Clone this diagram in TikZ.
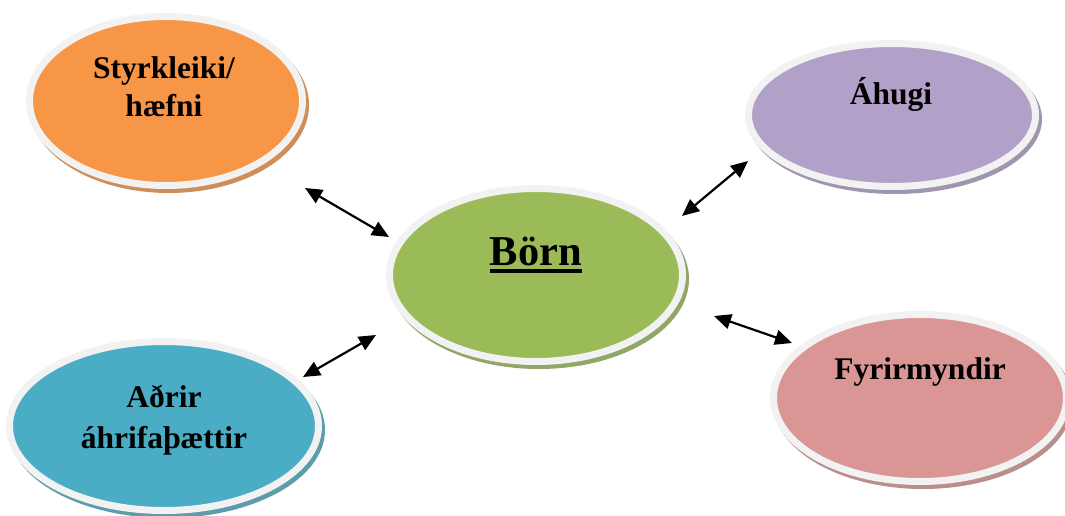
\documentclass[tikz,border=0pt]{standalone}
\usepackage{fontspec}
\setmainfont{Liberation Serif}
\usetikzlibrary{arrows.meta,shapes.geometric}
\definecolor{rim}{RGB}{242,242,242}
\definecolor{corange}{RGB}{247,150,70}
\definecolor{cgreen}{RGB}{155,187,89}
\definecolor{cpurple}{RGB}{177,160,199}
\definecolor{cpink}{RGB}{217,150,148}
\definecolor{cblue}{RGB}{75,172,198}
\begin{document}
\begin{tikzpicture}[x=1pt,y=-1pt,
  bubble/.style={ellipse,draw=rim,line width=7pt,inner sep=0pt},
  lbl/.style={anchor=base,inner sep=0pt,font=\bfseries\fontsize{31.5}{38}\selectfont},
  link/.style={{Triangle[length=17pt,width=15pt]}-{Triangle[length=17pt,width=15pt]},line width=2.2pt}]
\useasboundingbox (0,0) rectangle (1065,516);
% shadows
\fill[corange!65!gray] (169,105) ellipse (140 and 88);
\fill[cgreen!65!gray] (539,279) ellipse (150 and 90);
\fill[cpurple!65!gray] (895,119) ellipse (147 and 75);
\fill[cpink!65!gray] (923,402) ellipse (150 and 87);
\fill[cblue!65!gray] (167,430) ellipse (158 and 88);
% bubbles
\node[bubble,fill=corange,minimum width=273pt,minimum height=169pt] (o) at (166,101) {};
\node[bubble,fill=cgreen,minimum width=293pt,minimum height=173pt] (g) at (536,275) {};
\node[bubble,fill=cpurple,minimum width=287pt,minimum height=143pt] (p) at (892,115) {};
\node[bubble,fill=cpink,minimum width=293pt,minimum height=167pt] (r) at (920,398) {};
\node[bubble,fill=cblue,minimum width=309pt,minimum height=169pt] (b) at (164,426) {};
% labels
\node[lbl] (o1) at (164,79) {Styrkleiki/};
\node[lbl] (o2) at (164,117) {hæfni};
\node[lbl,font=\bfseries\fontsize{42.5}{50}\selectfont] (g1) at (536,265)
  {\setbox0\hbox{Börn}\rlap{\rule[-7.5pt]{\wd0}{4pt}}\box0};
\node[lbl] (p1) at (891,105) {Áhugi};
\node[lbl] (r1) at (920,379) {Fyrirmyndir};
\node[lbl] (b1) at (164,407) {Aðrir};
\node[lbl] (b2) at (164,448) {áhrifaþættir};
% connectors
\coordinate (a1) at (305,188); \coordinate (a2) at (389,237);
\coordinate (c1) at (682,216); \coordinate (c2) at (748,161);
\coordinate (d1) at (303,377); \coordinate (d2) at (376,335);
\coordinate (e1) at (714,316); \coordinate (e2) at (792,343);
\draw[link] (a1) -- (a2);
\draw[link] (c1) -- (c2);
\draw[link] (d1) -- (d2);
\draw[link] (e1) -- (e2);
\end{tikzpicture}
\end{document}
